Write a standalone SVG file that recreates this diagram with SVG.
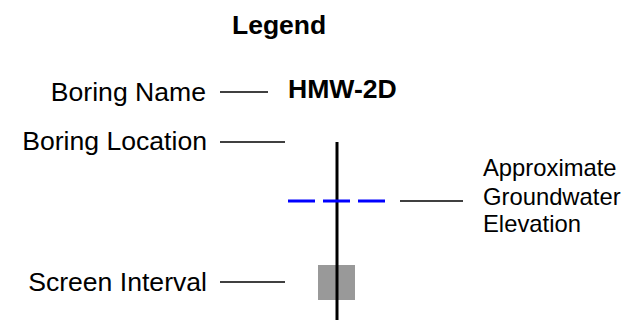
<svg xmlns="http://www.w3.org/2000/svg" width="627" height="322" viewBox="0 0 627 322">
<style>
.t{font-family:"Liberation Sans",Arial,sans-serif;fill:#000}
.l{font-size:26.6px;text-anchor:end}
.r{font-size:23.8px}
.b{font-weight:bold}
.c{stroke:#000;stroke-width:1.5;fill:none}
</style>
<rect width="627" height="322" fill="#fff"/>
<g id="title"><text class="t b" x="232" y="34" font-size="26.5">Legend</text></g>
<g id="symbol">
<rect x="318" y="265" width="37" height="35" fill="#999999"/>
<line x1="337" y1="142" x2="337" y2="320" stroke="#000" stroke-width="3"/>
<g stroke="#0000ff" stroke-width="3">
<line x1="288" y1="201" x2="315" y2="201"/>
<line x1="323" y1="201" x2="350" y2="201"/>
<line x1="358" y1="201" x2="385" y2="201"/>
</g>
<text class="t b" x="288" y="98" font-size="26.6">HMW-2D</text>
</g>
<g id="labels">
<text class="t l" x="206" y="101">Boring Name</text>
<text class="t l" x="207" y="150">Boring Location</text>
<text class="t l" x="207" y="291">Screen Interval</text>
<text class="t r" x="483" y="176">Approximate</text>
<text class="t r" x="483" y="205">Groundwater</text>
<text class="t r" x="483" y="232">Elevation</text>
</g>
<g id="connectors">
<line class="c" x1="220" y1="92" x2="268" y2="92"/>
<line class="c" x1="220" y1="142" x2="285" y2="142"/>
<line class="c" x1="220" y1="282" x2="285" y2="282"/>
<line class="c" x1="400" y1="201" x2="463" y2="201"/>
</g>
</svg>
